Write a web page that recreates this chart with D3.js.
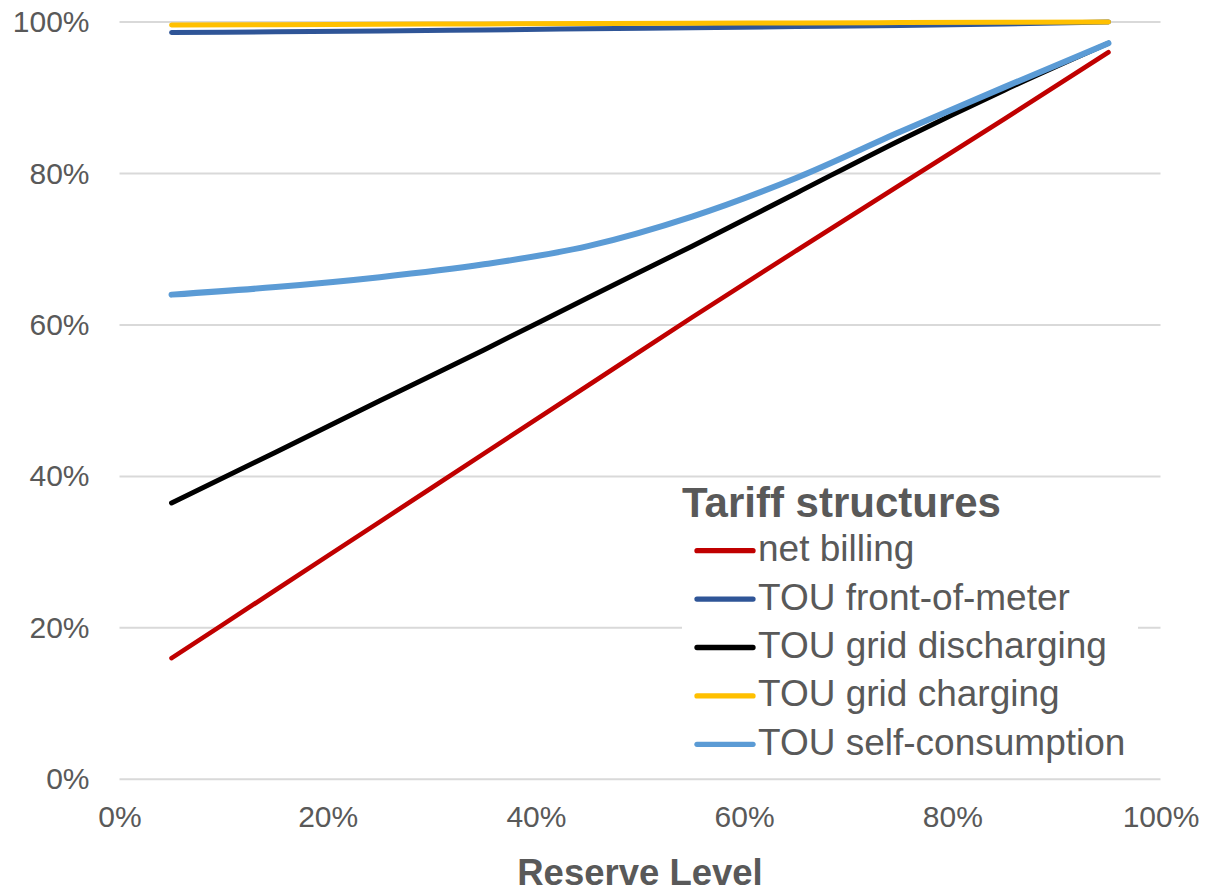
<!DOCTYPE html>
<html>
<head>
<meta charset="utf-8">
<script src="https://cdn.jsdelivr.net/npm/d3@7"></script>
<style>
  html, body { margin: 0; padding: 0; background: #fff; }
  svg { display: block; font-family: "Liberation Sans", Arial, sans-serif; }
</style>
</head>
<body>
<svg id="chart" width="1223" height="895"></svg>
<script>
// Reserve levels (fraction) at which each tariff was evaluated
const reserveLevels = [0.05, 0.15, 0.25, 0.35, 0.45, 0.55, 0.65, 0.75, 0.85, 0.95];

// Series values (fraction) per tariff structure
const netBilling        = [0.160, 0.250, 0.340, 0.430, 0.520, 0.610, 0.698, 0.785, 0.872, 0.960];
const touFrontOfMeter   = [0.986, 0.987, 0.988, 0.9895, 0.991, 0.9925, 0.994, 0.9955, 0.9975, 1.000];
const touGridDischarge  = [0.365, 0.432, 0.500, 0.567, 0.636, 0.704, 0.774, 0.844, 0.910, 0.972];
const touGridCharging   = [0.996, 0.9965, 0.997, 0.9975, 0.998, 0.9985, 0.9988, 0.9992, 0.9996, 1.000];
const touSelfConsume    = [0.640, 0.650, 0.663, 0.680, 0.704, 0.743, 0.794, 0.855, 0.914, 0.972];

const seriesNames  = ["net billing", "TOU front-of-meter", "TOU grid discharging", "TOU grid charging", "TOU self-consumption"];
const seriesValues = [netBilling, touFrontOfMeter, touGridDischarge, touGridCharging, touSelfConsume];
const seriesColors = ["#C00000", "#2F5597", "#000000", "#FFC000", "#5B9BD5"];
const seriesWidths = [4.6, 5, 5, 5, 6];

const xTicks = [0, 0.2, 0.4, 0.6, 0.8, 1.0];
const yTicks = [0, 0.2, 0.4, 0.6, 0.8, 1.0];

const legendTitle = "Tariff structures";
const xAxisTitle = "Reserve Level";

const svg = d3.select("#chart");
const textColor = "#595959";

const x = d3.scaleLinear().domain([0, 1]).range([119.5, 1160.5]);
const y = d3.scaleLinear().domain([0, 1]).range([779.3, 22]);
const pct = d3.format(".0%");

// Horizontal gridlines
svg.append("g")
  .selectAll("line")
  .data(yTicks)
  .join("line")
  .attr("x1", x(0)).attr("x2", x(1))
  .attr("y1", d => y(d)).attr("y2", d => y(d))
  .attr("stroke", "#D9D9D9")
  .attr("stroke-width", 2);

// Y axis labels
const yAxis = svg.append("g")
  .attr("transform", `translate(${x(0)},0)`)
  .call(d3.axisLeft(y).tickValues(yTicks).tickFormat(pct).tickSize(0).tickPadding(30));
yAxis.select(".domain").remove();
yAxis.selectAll("text")
  .attr("font-family", "Liberation Sans, Arial, sans-serif")
  .attr("font-size", 30)
  .attr("fill", textColor);

// X axis labels
const xAxis = svg.append("g")
  .attr("transform", `translate(0,${y(0)})`)
  .call(d3.axisBottom(x).tickValues(xTicks).tickFormat(pct).tickSize(0).tickPadding(26));
xAxis.select(".domain").remove();
xAxis.selectAll("text")
  .attr("font-family", "Liberation Sans, Arial, sans-serif")
  .attr("font-size", 30)
  .attr("fill", textColor);

// X axis title
svg.append("text")
  .attr("x", (x(0) + x(1)) / 2)
  .attr("y", 885)
  .attr("text-anchor", "middle")
  .attr("font-size", 36.5)
  .attr("font-weight", "bold")
  .attr("fill", textColor)
  .text(xAxisTitle);

// Series lines
const line = d3.line()
  .x((d, i) => x(reserveLevels[i]))
  .y(d => y(d))
  .curve(d3.curveMonotoneX);

svg.append("g")
  .selectAll("path")
  .data(seriesValues)
  .join("path")
  .attr("d", d => line(d))
  .attr("fill", "none")
  .attr("stroke", (d, i) => seriesColors[i])
  .attr("stroke-width", (d, i) => seriesWidths[i])
  .attr("stroke-linecap", "round")
  .attr("stroke-linejoin", "round");

// Legend
const legend = svg.append("g");
legend.append("rect")
  .attr("x", 682).attr("y", 480)
  .attr("width", 456).attr("height", 290)
  .attr("fill", "#fff");
legend.append("text")
  .attr("x", 682).attr("y", 517)
  .attr("font-size", 42)
  .attr("font-weight", "bold")
  .attr("fill", textColor)
  .text(legendTitle);

const items = legend.selectAll("g.item")
  .data(seriesNames)
  .join("g")
  .attr("class", "item")
  .attr("transform", (d, i) => `translate(0,${550.7 + i * 48.4})`);
items.append("line")
  .attr("x1", 697).attr("x2", 753)
  .attr("y1", 0).attr("y2", 0)
  .attr("stroke", (d, i) => seriesColors[i])
  .attr("stroke-width", 5.3)
  .attr("stroke-linecap", "round");
items.append("text")
  .attr("x", 758)
  .attr("y", 10.5)
  .attr("font-size", 37)
  .attr("fill", textColor)
  .text(d => d);
</script>
</body>
</html>
